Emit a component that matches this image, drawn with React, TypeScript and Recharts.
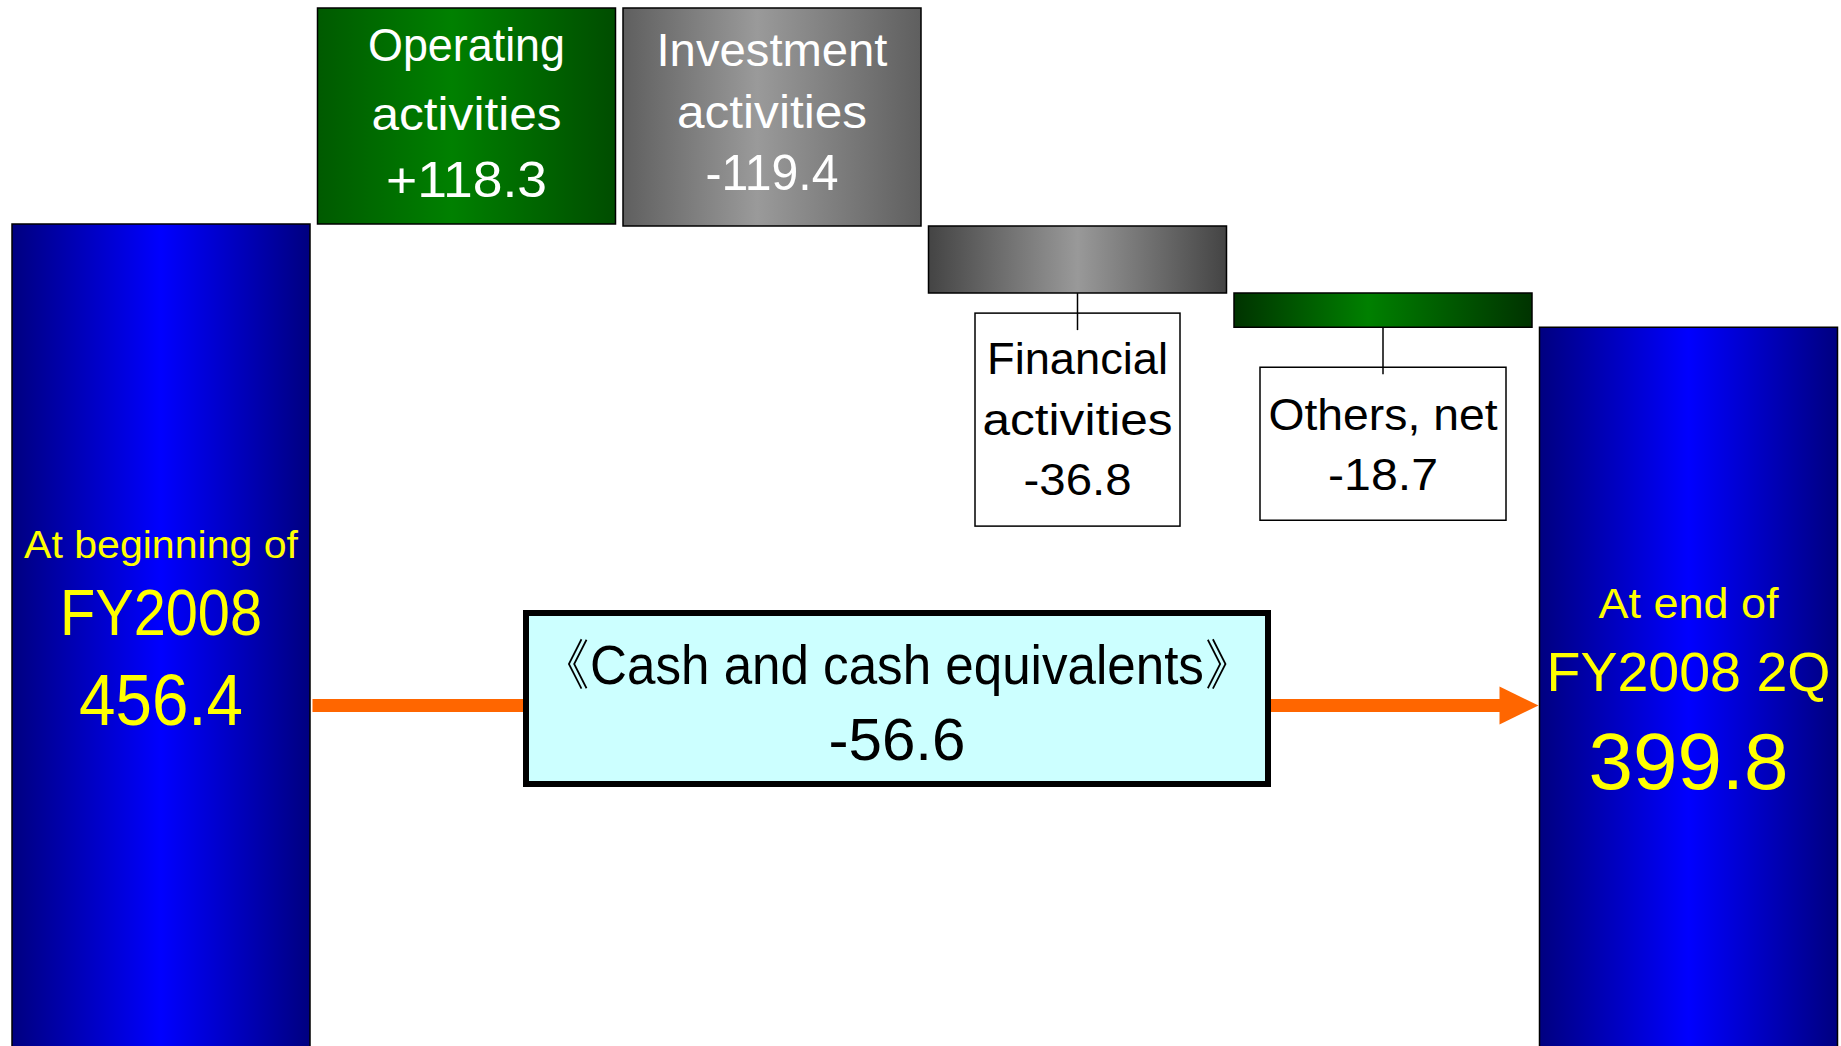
import { BarChart, Bar, XAxis, YAxis, Cell, LabelList, Customized } from "recharts";

const categories = ["start", "operating", "investment", "financial", "others", "end"];
const openingBalance = 456.4;
const flowValues = [118.3, -119.4, -36.8, -18.7];
const closingBalance = 399.8;
const netChange = -56.6;

const flowLabels = [["Operating", "activities"], ["Investment", "activities"], ["Financial", "activities"], ["Others, net"]];
const openingLabels = ["At beginning of", "FY2008"];
const closingLabels = ["At end of", "FY2008 2Q"];
const cashLabel = "《Cash and cash equivalents》";

const fills = ["url(#gBlue)", "url(#gGreen)", "url(#gGray)", "url(#gGrayDark)", "url(#gGreenDark)", "url(#gBlue)"];

// the original uses a condensed face; squeeze text to the measured widths
const textWidths: Record<string, number> = {
  "At beginning of": 274,
  FY2008: 202,
  "456.4": 164,
  "At end of": 180,
  "FY2008 2Q": 284,
  "399.8": 200,
  Operating: 197,
  activities: 190,
  "+118.3": 161,
  Investment: 231,
  "-119.4": 133,
  Financial: 181,
  "-36.8": 108,
  "Others, net": 229,
  "-18.7": 110,
  "《Cash and cash equivalents》": 716,
  "-56.6": 137,
};

const FONT = "'Liberation Sans', Arial, sans-serif";
const W = 1841;
const H = 1060;
const M = { top: 8, right: 0, bottom: 3, left: 8 };

// build waterfall rows
let running = openingBalance;
const data = categories.map((name, i) => {
  if (i === 0) return { name, base: 0, delta: openingBalance };
  if (i === categories.length - 1) return { name, base: 0, delta: closingBalance };
  const v = flowValues[i - 1];
  const next = running + v;
  const row = { name, base: Math.min(running, next), delta: Math.abs(v), value: v };
  running = next;
  return row;
});
const topValue = Math.max(...data.map((d) => d.base + d.delta));

const fmt = (v: number) => (v > 0 ? `+${v.toFixed(1)}` : v.toFixed(1));

function txt(x: number, y: number, s: string, size: number, fill: string, key: string) {
  return (
    <text
      key={key}
      x={x}
      y={y}
      textAnchor="middle"
      fontFamily={FONT}
      fontSize={size}
      fill={fill}
      textLength={textWidths[s]}
      lengthAdjust="spacingAndGlyphs"
    >
      {s}
    </text>
  );
}

function BarLabel(props: any) {
  const { x, y, width, height, index } = props;
  const cx = x + width / 2;
  if (index === 0) {
    return (
      <g>
        {txt(cx, y + 334, openingLabels[0], 39, "#ffff00", "a")}
        {txt(cx, y + 411, openingLabels[1], 64, "#ffff00", "b")}
        {txt(cx, y + 501, openingBalance.toFixed(1), 72, "#ffff00", "c")}
      </g>
    );
  }
  if (index === 5) {
    return (
      <g>
        {txt(cx, y + 291, closingLabels[0], 43, "#ffff00", "a")}
        {txt(cx, y + 364, closingLabels[1], 56, "#ffff00", "b")}
        {txt(cx, y + 462, closingBalance.toFixed(1), 80, "#ffff00", "c")}
      </g>
    );
  }
  const lines = flowLabels[index - 1];
  const val = fmt(flowValues[index - 1]);
  if (index === 1 || index === 2) {
    const offs = index === 1 ? [53, 122, 189] : [58, 120, 182];
    return (
      <g>
        {txt(cx, y + offs[0], lines[0], 46, "#ffffff", "a")}
        {txt(cx, y + offs[1], lines[1], 46, "#ffffff", "b")}
        {txt(cx, y + offs[2], val, 50, "#ffffff", "c")}
      </g>
    );
  }
  // small bars: label box hanging below
  const bottom = y + height;
  const box = index === 3 ? { gap: 20, w: 205, h: 213, line: 17 } : { gap: 40, w: 246, h: 153, line: 7 };
  const top = bottom + box.gap;
  const all = [...lines, val];
  const offs = index === 3 ? [61, 122, 182] : [63, 123];
  return (
    <g>
      <rect x={cx - box.w / 2} y={top} width={box.w} height={box.h} fill="#ffffff" stroke="#000" strokeWidth={1.5} />
      <line x1={cx} y1={bottom} x2={cx} y2={top + box.line} stroke="#000" strokeWidth={1.5} />
      {all.map((s, i) => txt(cx, top + offs[i], s, 45, "#000000", `t${i}`))}
    </g>
  );
}

function CashFlowNote() {
  const band = (W - M.left - M.right) / categories.length;
  const leftEdge = M.left + band - 4;
  const rightEdge = M.left + band * 5 + 4;
  const ay = 705.5;
  const bx = 526;
  const bw = 742;
  return (
    <g>
      <rect x={leftEdge + 3} y={ay - 6.5} width={rightEdge - leftEdge - 42} height={13} fill="#ff6600" />
      <polygon points={`${rightEdge - 40},${ay - 19} ${rightEdge - 1},${ay} ${rightEdge - 40},${ay + 19}`} fill="#ff6600" />
      <rect x={bx} y={613} width={bw} height={171} fill="#ccffff" stroke="#000" strokeWidth={6} />
      {txt(bx + bw / 2, 684, cashLabel, 56, "#000", "c1")}
      {txt(bx + bw / 2, 760, netChange.toFixed(1), 60, "#000", "c2")}
    </g>
  );
}

export default function App() {
  return (
    <div style={{ position: "fixed", left: 0, top: 0, width: W, height: 1046, overflow: "hidden", background: "#fff" }}>
      <BarChart width={W} height={H} data={data} margin={M} barCategoryGap={4}>
        <defs>
          <linearGradient id="gBlue" x1="0" y1="0" x2="1" y2="0">
            <stop offset="0%" stopColor="#000080" />
            <stop offset="50%" stopColor="#0000ff" />
            <stop offset="100%" stopColor="#000080" />
          </linearGradient>
          <linearGradient id="gGreen" x1="0" y1="0" x2="1" y2="0">
            <stop offset="0%" stopColor="#005a00" />
            <stop offset="45%" stopColor="#008000" />
            <stop offset="100%" stopColor="#004d00" />
          </linearGradient>
          <linearGradient id="gGreenDark" x1="0" y1="0" x2="1" y2="0">
            <stop offset="0%" stopColor="#003300" />
            <stop offset="45%" stopColor="#008000" />
            <stop offset="100%" stopColor="#003300" />
          </linearGradient>
          <linearGradient id="gGray" x1="0" y1="0" x2="1" y2="0">
            <stop offset="0%" stopColor="#5f5f5f" />
            <stop offset="45%" stopColor="#9a9a9a" />
            <stop offset="100%" stopColor="#5f5f5f" />
          </linearGradient>
          <linearGradient id="gGrayDark" x1="0" y1="0" x2="1" y2="0">
            <stop offset="0%" stopColor="#444444" />
            <stop offset="50%" stopColor="#999999" />
            <stop offset="100%" stopColor="#444444" />
          </linearGradient>
        </defs>
        <XAxis dataKey="name" hide />
        <YAxis hide domain={[0, topValue]} />
        <Bar dataKey="base" stackId="w" fill="transparent" isAnimationActive={false} />
        <Bar dataKey="delta" stackId="w" stroke="#000" strokeWidth={1.5} isAnimationActive={false}>
          {data.map((d, i) => (
            <Cell key={d.name} fill={fills[i]} />
          ))}
          <LabelList dataKey="delta" content={BarLabel} />
        </Bar>
        <Customized component={CashFlowNote} />
      </BarChart>
    </div>
  );
}
